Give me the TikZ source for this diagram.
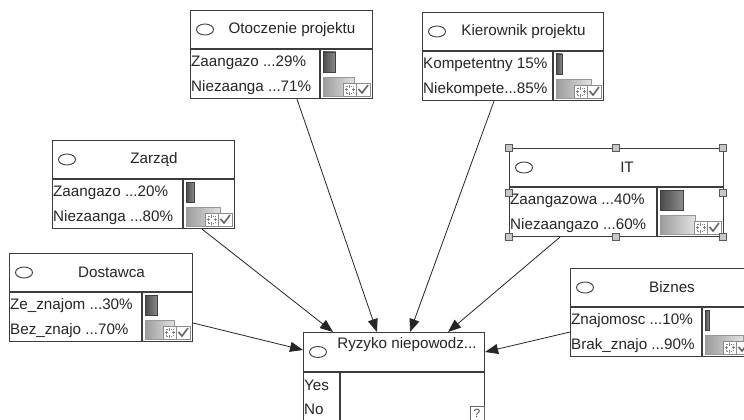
\documentclass[tikz,border=0pt]{standalone}
\usepackage{fontspec}
\setmainfont{Liberation Sans}
\usetikzlibrary{calc,arrows.meta}

\definecolor{edge}{HTML}{3C3C3C}
\definecolor{darkL}{HTML}{4A4A4A}
\definecolor{darkR}{HTML}{8E8E8E}
\definecolor{lightL}{HTML}{9C9C9C}
\definecolor{lightR}{HTML}{E2E2E2}

\tikzset{
  cptbox/.style={draw=edge, line width=1.1pt, fill=white, rectangle, inner sep=0pt,
                 minimum height=88pt},
  rule/.style={draw=edge, line width=1.1pt},
  oval/.style={draw=edge, line width=0.9pt},
  label/.style={font=\fontsize{15.2}{18}\selectfont, text=black!85, inner sep=0pt},
  darkbar/.style={draw=black!75, line width=0.6pt, left color=darkL, right color=darkR},
  lightbar/.style={draw=black!40, line width=0.6pt, left color=lightL, right color=lightR},
  iconbox/.style={draw=black!45, line width=0.5pt, fill=white},
  handle/.style={draw=black!65, line width=0.6pt, fill=black!22},
  link/.style={draw=black!85, line width=0.8pt, -{Triangle[length=13pt,width=10pt]}},
}

% interior of a probability box: #1 node, #2 width, #3 split,
% #4 title, #5/#6 state rows, #7/#8 percentages
\newcommand{\cptinside}[8]{%
  \begin{scope}[shift={(#1.north west)}]
    \draw[rule] (0,39) -- (#2,39);
    \draw[rule] (#3,39) -- (#3,88);
    \draw[oval] (15,19.5) ellipse (8.5pt and 5.5pt);
    \node[label] at ({#2/2+11},19.5) {#4};
    \node[label, anchor=west] at (1,53) {#5};
    \node[label, anchor=west] at (1,78) {#6};
    \pgfmathsetmacro\barscale{(#2-#3-8)/100}
    \path[darkbar] (#3+3,42) rectangle ({#3+3+#7*\barscale},62);
    \path[lightbar] (#3+3,67) rectangle ({#3+3+#8*\barscale},86);
    % fit icon
    \path[iconbox] (#2-29,73) rectangle (#2-16,86);
    \draw[black!50, line width=0.5pt, dash pattern=on 1pt off 1pt]
      (#2-26,76) rectangle (#2-19,83);
    \draw[black!50, line width=0.5pt] (#2-22.5,74.5) -- (#2-22.5,77.5)
      (#2-22.5,81.5) -- (#2-22.5,84.5) (#2-27.5,79.5) -- (#2-24.5,79.5)
      (#2-20.5,79.5) -- (#2-17.5,79.5);
    % check icon
    \path[iconbox] (#2-16,73) rectangle (#2-2,86);
    \draw[black!60, line width=1.6pt] (#2-13.5,79) -- (#2-10,83) -- (#2-4,75);
  \end{scope}}

\begin{document}
\begin{tikzpicture}[x=1pt,y=-1pt]
  \useasboundingbox (0,0) rectangle (744,420);
  \clip (0,0) rectangle (744,420);
  \fill[white] (0,0) rectangle (744,420);

  % parent nodes
  \node[cptbox, minimum width=182pt, anchor=north west] (ot) at (190,10) {};
  \cptinside{ot}{182}{130}{Otoczenie projektu}{Zaangazo ...29\%}{Niezaanga ...71\%}{29}{71}

  \node[cptbox, minimum width=181pt, anchor=north west] (ki) at (422,12) {};
  \cptinside{ki}{181}{131}{Kierownik projektu}{Kompetentny 15\%}{Niekompete...85\%}{15}{85}

  \node[cptbox, minimum width=182pt, anchor=north west] (za) at (52,140) {};
  \cptinside{za}{182}{131}{Zarząd}{Zaangazo ...20\%}{Niezaanga ...80\%}{20}{80}

  \node[cptbox, minimum width=214pt, anchor=north west] (it) at (509,148) {};
  \cptinside{it}{214}{148}{IT}{Zaangazowa ...40\%}{Niezaangazo ...60\%}{40}{60}

  \node[cptbox, minimum width=183pt, anchor=north west] (do) at (9,253) {};
  \cptinside{do}{183}{133}{Dostawca}{Ze\_znajom ...30\%}{Bez\_znajo ...70\%}{30}{70}

  \node[cptbox, minimum width=182pt, anchor=north west] (bi) at (570,268) {};
  \cptinside{bi}{182}{132}{Biznes}{Znajomosc ...10\%}{Brak\_znajo ...90\%}{10}{90}

  % selection handles around IT
  \foreach \hx/\hy in {0/0, 107/0, 214/0, 0/45, 214/45, 0/89, 107/89, 214/89}
    \path[handle] ($(it.north west)+(\hx-3.5,\hy-3.5)$) rectangle ++(7,7);

  % child node
  \node[cptbox, minimum width=181pt, minimum height=110pt, anchor=north west] (ry) at (303,332) {};
  \begin{scope}[shift={(ry.north west)}]
    \draw[rule] (0,40) -- (181,40);
    \draw[rule] (37,40) -- (37,110);
    \draw[oval] (15,20) ellipse (8.5pt and 5.5pt);
    \node[label] at (104,13) {Ryzyko niepowodz...};
    \node[label, anchor=west] at (1,53) {Yes};
    \node[label, anchor=west] at (1,77) {No};
    \path[iconbox, draw=black!60] (167,74) rectangle (181,88);
    \node[font=\fontsize{12}{13}\selectfont, text=black!70, inner sep=0pt] at (174,81.5) {?};
  \end{scope}

  % dependencies
  \draw[link] ($(ot.south west)+(107,0)$) -- ($(ry.north west)+(74,0)$);
  \draw[link] ($(ki.south west)+(72,0)$) -- ($(ry.north west)+(107,0)$);
  \draw[link] ($(za.south west)+(150,0)$) -- ($(ry.north west)+(30,0)$);
  \draw[link] ($(it.south west)+(51,0)$) -- ($(ry.north west)+(145,0)$);
  \draw[link] ($(do.north east)+(0,70)$) -- ($(ry.north west)+(0,18)$);
  \draw[link] ($(bi.north west)+(0,64)$) -- ($(ry.north east)+(0,20)$);
\end{tikzpicture}
\end{document}
